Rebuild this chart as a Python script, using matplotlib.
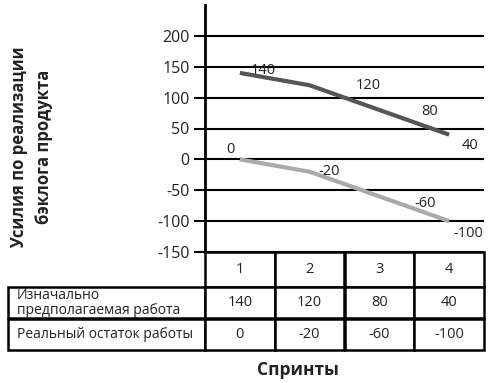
import matplotlib.pyplot as plt

plt.rcParams['font.family'] = ['Open Sans', 'DejaVu Sans']

# Data
sprints = ["1", "2", "3", "4"]
planned = [140, 120, 80, 40]
actual = [0, -20, -60, -100]
row_names = ["Изначально\nпредполагаемая работа", "Реальный остаток работы"]
y_ticks = [-150, -100, -50, 0, 50, 100, 150, 200]

# label offsets (points) so labels sit as in the original
planned_offsets = [(17, 2), (42, 0), (36, -1), (15, -8)]
actual_offsets = [(-7, 7), (14, 0), (33, -5), (14, -9)]

AX_W, AX_H = 279, 247  # axes size in pixels
LABEL_W = 197          # width of the row label column in pixels

fig = plt.figure(figsize=(4.9, 3.83), dpi=100)
ax = fig.add_axes([205 / 490, 1 - 252 / 383, AX_W / 490, AX_H / 383])

x = list(range(len(sprints)))
ax.plot(x, planned, color="#555555", lw=3, solid_capstyle="butt", zorder=3)
ax.plot(x, actual, color="#aaaaaa", lw=3, solid_capstyle="butt", zorder=3)

for xi, v, off in zip(x, planned, planned_offsets):
    ax.annotate(str(v), (xi, v), xytext=off, textcoords="offset points",
                ha="center", va="center", fontsize=10.5, color="#222222")
for xi, v, off in zip(x, actual, actual_offsets):
    ax.annotate(str(v), (xi, v), xytext=off, textcoords="offset points",
                ha="center", va="center", fontsize=10.5, color="#222222")

ax.set_xlim(-0.5, len(sprints) - 0.5)
ax.set_ylim(-150, 250)
ax.set_yticks(y_ticks)
ax.set_yticklabels([str(t) for t in y_ticks], fontsize=11.5, color="#222222")
ax.set_xticks([])
ax.grid(axis="y", color="black", lw=1.5)
ax.set_axisbelow(True)
ax.tick_params(axis="y", length=8, width=1.5, pad=3)
for s in ["top", "right", "bottom"]:
    ax.spines[s].set_visible(False)
ax.spines["left"].set_linewidth(2)

# data table under the plot, row names as first column
cell_text = [[row_names[0]] + [str(v) for v in planned],
             [row_names[1]] + [str(v) for v in actual]]
col_widths = [LABEL_W] + [AX_W / len(sprints)] * len(sprints)
tbl = ax.table(cellText=cell_text, colLabels=[""] + sprints,
               colWidths=col_widths, cellLoc="center",
               bbox=[-LABEL_W / AX_W, -98 / AX_H, (LABEL_W + AX_W) / AX_W, 98 / AX_H])
tbl.auto_set_font_size(False)
for (r, c), cell in tbl.get_celld().items():
    cell.set_linewidth(1.8)
    cell.set_edgecolor("black")
    cell.get_text().set_color("#222222")
    cell.set_height(35 if r == 0 else 31.5)
    if c == 0:
        cell.get_text().set_horizontalalignment("left")
        cell.get_text().set_fontsize(10)
        cell.get_text().set_linespacing(1.0)
        cell.PAD = 0.045
        if r == 0:
            cell.visible_edges = "open"
    else:
        cell.get_text().set_fontsize(10.5)

fig.text(0.065, 0.616, "Усилия по реализации\nбэклога продукта", rotation=90,
         ha="center", va="center", fontsize=12, fontweight="bold",
         color="#222222", linespacing=1.5)
fig.text(298 / 490, 1 - 370 / 383, "Спринты", ha="center", va="center",
         fontsize=12.5, fontweight="bold", color="#222222")

fig.savefig("out.png", dpi=100)
